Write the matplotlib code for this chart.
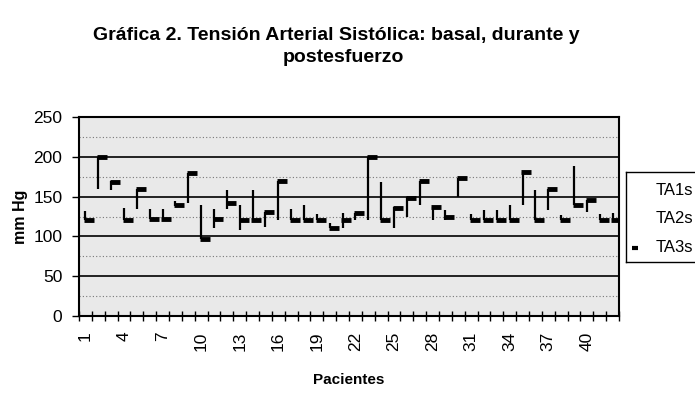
import numpy as np
import matplotlib.pyplot as plt
from matplotlib.ticker import MultipleLocator, FixedLocator, NullFormatter

plt.rcParams['font.family'] = ['Liberation Sans', 'DejaVu Sans']

# Pacientes 1..42
pacientes = list(range(1, 43))
ta1s = [132, 200, 170, 136, 160, 134, 134, 144, 180, 140, 134, 158,
        140, 158, 131, 170, 134, 140, 128, 117, 130, 130, 200, 168,
        137, 150, 170, 137, 133, 173, 128, 133, 133, 140, 181, 158,
        160, 127, 188, 146, 128, 130]
ta2s = [120, 160, 158, 121, 134, 122, 122, 138, 142, 97, 111, 134,
        108, 120, 112, 120, 120, 120, 120, 110, 110, 120, 120, 120,
        110, 125, 140, 121, 121, 150, 120, 120, 120, 120, 140, 120,
        133, 120, 140, 131, 120, 120]
ta3s = [120, 200, 168, 121, 160, 122, 122, 140, 180, 97, 122, 142,
        121, 120, 131, 170, 120, 120, 120, 110, 120, 130, 200, 120,
        136, 148, 170, 137, 125, 173, 120, 120, 120, 120, 181, 120,
        160, 120, 140, 146, 120, 120]

W, H = 695, 404
fig = plt.figure(figsize=(W / 100, H / 100), dpi=100)
ax = fig.add_axes([79 / W, 1 - 316 / H, (619 - 79) / W, (316 - 117) / H])
ax.set_facecolor('#e9e9e9')

x = np.arange(len(pacientes))
lo = np.minimum(np.minimum(ta1s, ta2s), ta3s)
hi = np.maximum(np.maximum(ta1s, ta2s), ta3s)
ax.vlines(x, lo, hi, color='black', lw=1.6, zorder=3)
ax.plot(x + 0.3, ta3s, ls='none', marker='_', ms=7, mew=3.5, color='black', zorder=4)

ax.set_xlim(-0.5, len(pacientes) - 0.5)
ax.set_ylim(0, 250)
ax.yaxis.set_major_locator(MultipleLocator(50))
ax.yaxis.set_minor_locator(MultipleLocator(25))
ax.grid(axis='y', which='major', color='black', lw=1.2)
ax.grid(axis='y', which='minor', color='#777777', lw=0.8, ls=(0, (1, 2)))
ax.set_axisbelow(True)

ax.xaxis.set_major_locator(FixedLocator(x[::3]))
ax.set_xticklabels([str(p) for p in pacientes[::3]], rotation=90, fontsize=12.5)
ax.xaxis.set_minor_locator(FixedLocator(np.arange(-0.5, len(pacientes), 1)))
ax.xaxis.set_minor_formatter(NullFormatter())
ax.tick_params(axis='x', which='major', length=0, pad=11)
ax.tick_params(axis='x', which='minor', direction='inout', length=7, width=1)
ax.tick_params(axis='y', which='major', direction='out', length=5, width=1,
               labelsize=12.5, pad=7)
ax.tick_params(axis='y', which='minor', length=0)
for s in ax.spines.values():
    s.set_linewidth(1.5)

ax.set_xlabel('Pacientes', fontsize=11, fontweight='bold', va='center')
ax.xaxis.set_label_coords(0.5, -(380 - 316) / 199)
ax.set_ylabel('mm Hg', fontsize=11.5, fontweight='bold', va='center')
ax.yaxis.set_label_coords(-(79 - 21) / 540, 0.5)

fig.text(336 / W, 1 - 36 / H, 'Gráfica 2. Tensión Arterial Sistólica: basal, durante y',
         ha='center', va='center', fontsize=14, fontweight='bold')
fig.text(343 / W, 1 - 58 / H, 'postesfuerzo',
         ha='center', va='center', fontsize=14, fontweight='bold')

# leyenda
lax = fig.add_axes([626 / W, 1 - 262 / H, (W - 626) / W, (262 - 172) / H])
lax.set_xlim(0, 1)
lax.set_ylim(0, 1)
lax.set_xticks([])
lax.set_yticks([])
for s in lax.spines.values():
    s.set_linewidth(1)
lax.spines['right'].set_visible(False)
for yy, lab in zip([0.79, 0.48, 0.16], ['TA1s', 'TA2s', 'TA3s']):
    lax.text(0.98, yy, lab, ha='right', va='center', fontsize=12)
lax.plot([0.13], [0.16], marker='_', ms=5, mew=3, color='black')

fig.savefig('out.png', dpi=100)
